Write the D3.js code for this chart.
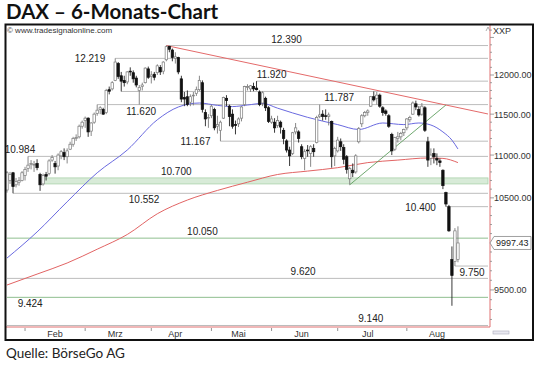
<!DOCTYPE html>
<html>
<head>
<meta charset="utf-8">
<script src="https://cdn.jsdelivr.net/npm/d3@7"></script>
<style>
body { margin: 0; background: #fff; }
svg { display: block; }
text { font-family: "Liberation Sans", Arial, sans-serif; }
</style>
</head>
<body>
<svg width="540" height="365"></svg>
<script>
// DAX daily candles, 23.01.2015 - 26.08.2015: date, open, high, low, close
var candles = [
  ["2015-01-23",10590,10810,10560,10790],["2015-01-26",10700,10800,10660,10770],
  ["2015-01-27",10790,10800,10552,10630],["2015-01-28",10650,10730,10620,10690],
  ["2015-01-29",10680,10740,10640,10700],["2015-01-30",10700,10810,10690,10790],
  ["2015-02-02",10760,10860,10700,10830],["2015-02-03",10840,10984,10800,10880],
  ["2015-02-04",10890,10940,10830,10900],["2015-02-05",10880,10930,10800,10890],
  ["2015-02-06",10900,10950,10820,10850],["2015-02-09",10770,10790,10580,10650],
  ["2015-02-10",10660,10780,10640,10760],["2015-02-11",10770,10800,10700,10750],
  ["2015-02-12",10780,10950,10760,10930],["2015-02-13",10940,11000,10920,10970],
  ["2015-02-16",10900,10930,10780,10860],["2015-02-17",10870,11020,10820,11000],
  ["2015-02-18",10990,11060,10950,11040],["2015-02-19",11030,11080,10940,10980],
  ["2015-02-20",10980,11080,10900,11050],["2015-02-23",11070,11160,11060,11130],
  ["2015-02-24",11130,11220,11100,11200],["2015-02-25",11200,11250,11170,11210],
  ["2015-02-26",11220,11370,11200,11350],["2015-02-27",11350,11420,11320,11400],
  ["2015-03-02",11420,11470,11330,11450],["2015-03-03",11450,11460,11220,11280],
  ["2015-03-04",11290,11400,11230,11390],["2015-03-05",11400,11520,11380,11500],
  ["2015-03-06",11510,11620,11480,11550],["2015-03-09",11560,11600,11500,11580],
  ["2015-03-10",11560,11580,11490,11500],["2015-03-11",11520,11820,11500,11800],
  ["2015-03-12",11810,11850,11750,11790],["2015-03-13",11820,11920,11800,11900],
  ["2015-03-16",11930,12219,11920,12170],["2015-03-17",12150,12170,11950,11980],
  ["2015-03-18",11990,12040,11787,11920],["2015-03-19",11930,11990,11850,11900],
  ["2015-03-20",11910,12050,11880,12040],["2015-03-23",12050,12100,11990,12040],
  ["2015-03-24",12030,12060,11900,11950],["2015-03-25",11960,11990,11840,11870],
  ["2015-03-26",11800,11870,11620,11840],["2015-03-27",11850,11900,11800,11870],
  ["2015-03-30",11900,12100,11890,12090],["2015-03-31",12080,12110,11950,11970],
  ["2015-04-01",11980,12050,11890,12000],["2015-04-02",12010,12040,11930,11970],
  ["2015-04-07",12030,12140,12000,12120],["2015-04-08",12100,12130,12000,12040],
  ["2015-04-09",12050,12180,12010,12170],["2015-04-10",12200,12390,12180,12375],
  ["2015-04-13",12380,12385,12300,12340],["2015-04-14",12330,12350,12180,12230],
  ["2015-04-15",12220,12300,12150,12240],["2015-04-16",12230,12240,12010,12040],
  ["2015-04-17",11950,11990,11650,11690],["2015-04-20",11710,11780,11600,11690],
  ["2015-04-21",11720,11800,11600,11620],["2015-04-22",11650,11750,11600,11720],
  ["2015-04-23",11730,11780,11610,11740],["2015-04-24",11760,11850,11730,11810],
  ["2015-04-27",11810,11990,11790,11930],["2015-04-28",11900,11930,11520,11560],
  ["2015-04-29",11520,11560,11350,11440],["2015-04-30",11450,11500,11330,11460],
  ["2015-05-04",11480,11620,11450,11600],["2015-05-05",11560,11580,11300,11330],
  ["2015-05-06",11350,11480,11260,11370],["2015-05-07",11300,11420,11167,11400],
  ["2015-05-08",11450,11720,11440,11710],["2015-05-11",11700,11740,11600,11670],
  ["2015-05-12",11600,11620,11350,11470],["2015-05-13",11500,11560,11320,11350],
  ["2015-05-14",11370,11420,11250,11360],["2015-05-15",11380,11460,11340,11440],
  ["2015-05-18",11450,11600,11410,11590],["2015-05-19",11620,11860,11600,11850],
  ["2015-05-20",11840,11880,11800,11850],["2015-05-21",11820,11870,11780,11860],
  ["2015-05-22",11850,11900,11790,11820],["2015-05-25",11830,11920,11800,11810],
  ["2015-05-26",11780,11800,11600,11620],["2015-05-27",11640,11790,11600,11770],
  ["2015-05-28",11700,11720,11540,11580],["2015-05-29",11580,11600,11390,11410],
  ["2015-06-01",11400,11480,11380,11440],["2015-06-02",11400,11450,11270,11330],
  ["2015-06-03",11360,11480,11330,11420],["2015-06-04",11400,11420,11260,11340],
  ["2015-06-05",11300,11330,11130,11200],["2015-06-08",11170,11190,11030,11060],
  ["2015-06-09",11060,11100,10870,10990],["2015-06-10",11020,11280,11000,11270],
  ["2015-06-11",11280,11390,11250,11330],["2015-06-12",11280,11300,11150,11200],
  ["2015-06-15",11100,11130,10950,10980],["2015-06-16",10960,11070,10820,11040],
  ["2015-06-17",11060,11120,10980,11050],["2015-06-18",11020,11120,10860,11100],
  ["2015-06-19",11080,11130,10980,11040],["2015-06-22",11150,11480,11140,11460],
  ["2015-06-23",11470,11620,11450,11490],["2015-06-24",11500,11550,11420,11470],
  ["2015-06-25",11480,11560,11430,11470],["2015-06-26",11470,11520,11360,11490],
  ["2015-06-29",11410,11420,10850,10980],["2015-06-30",10990,11100,10870,11080],
  ["2015-07-01",11050,11220,11030,11180],["2015-07-02",11160,11200,11050,11100],
  ["2015-07-03",11090,11130,10890,10950],["2015-07-06",10980,11000,10780,10830],
  ["2015-07-07",10720,10860,10650,10840],["2015-07-08",10820,10900,10740,10790],
  ["2015-07-09",10800,11010,10780,10990],["2015-07-10",11160,11340,11140,11320],
  ["2015-07-13",11380,11500,11340,11480],["2015-07-14",11480,11540,11460,11520],
  ["2015-07-15",11520,11560,11480,11540],["2015-07-16",11600,11730,11590,11720],
  ["2015-07-17",11720,11787,11660,11680],["2015-07-20",11700,11780,11620,11740],
  ["2015-07-21",11740,11760,11580,11600],["2015-07-22",11580,11600,11480,11520],
  ["2015-07-23",11540,11560,11480,11510],["2015-07-24",11480,11500,11330,11350],
  ["2015-07-27",11250,11270,11000,11050],["2015-07-28",11070,11220,11050,11210],
  ["2015-07-29",11200,11280,11150,11220],["2015-07-30",11220,11280,11180,11260],
  ["2015-07-31",11270,11320,11230,11310],["2015-08-03",11330,11450,11300,11440],
  ["2015-08-04",11430,11480,11400,11460],["2015-08-05",11500,11660,11490,11640],
  ["2015-08-06",11630,11670,11550,11590],["2015-08-07",11560,11600,11470,11490],
  ["2015-08-10",11500,11640,11480,11600],["2015-08-11",11580,11600,11280,11300],
  ["2015-08-12",11160,11220,10860,10940],["2015-08-13",10960,11080,10880,11000],
  ["2015-08-14",11020,11080,10900,10980],["2015-08-17",10960,11020,10880,10940],
  ["2015-08-18",10930,10960,10860,10910],["2015-08-19",10820,10830,10600,10640],
  ["2015-08-20",10560,10570,10400,10430],["2015-08-21",10400,10420,10120,10130],
  ["2015-08-24",9820,9960,9338,9650],["2015-08-25",9800,10160,9750,10130],
  ["2015-08-26",9820,10180,9790,9997.43]
];

// moving averages: [candle index, value]
var maBlue = [[0,9835],[10,10118],[20,10455],[30,10790],[40,11060],[50,11430],[57,11590],
  [64,11640],[70,11610],[75,11595],[80,11615],[85,11635],[90,11575],[100,11460],
  [110,11370],[117,11310],[125,11390],[132,11370],[137,11390],[141,11365],[145,11280],
  [148,11180],[150,11073]];
var maRed = [[0,9551],[10,9665],[20,9782],[30,9930],[40,10090],[50,10320],[60,10475],
  [70,10585],[80,10680],[90,10770],[100,10810],[110,10850],[120,10910],[130,10940],
  [140,10965],[145,10960],[150,10910]];

// trend lines: [candle index, price]
var trendDown = [[53,12390],[160,11502]];
var trendUp = [[114,10650],[146,11615]];

// horizontal levels and the candle index where each one starts
var levelPrices = [12390,12219,11920,11787,11620,11167,10984,10552,10400,10050,9750,9620,9424,9140];
var levelStart  = [53,36,83,38,30,71,7,2,146,0,149,0,0,0];
var greenLevels = [10050,9424];
var zone = [10660,10730], zoneStart = 12, zoneLabel = "10.700";

var priceTicks = [9500,10500,11000,11500,12000];
var months = ["Feb","Mrz","Apr","Mai","Jun","Jul","Aug"];
var lastPrice = 9997.43;

// where the level labels sit: candle index of label centre (or "left" of line start), side
var labelSpots = [[93,"above"],[null,"left"],[88,"above"],[110.5,"below"],[44.6,"below"],
  [null,"left"],[4.3,"above"],[45.6,"below"],[null,"left"],[65,"above"],[154.7,"below"],
  [98.5,"above"],[7.7,"below"],[121,"above"]];

var svg = d3.select("svg");
var x = d3.scaleLinear().domain([0, 160]).range([7, 488]);
var y = d3.scaleLog().domain([9120, 12670]).range([327.5, 25]);
var de = d3.formatLocale({decimal: ",", thousands: ".", grouping: [3], currency: ["", ""]});
var fmtLevel = de.format(",");

svg.append("rect").attr("width", 540).attr("height", 365).attr("fill", "#fff");

svg.append("defs").append("clipPath").attr("id", "plot")
  .append("rect").attr("x", 6).attr("y", 25).attr("width", 484).attr("height", 302);

var plot = svg.append("g").attr("clip-path", "url(#plot)");

// support / resistance zone
plot.append("rect")
  .attr("x", x(zoneStart)).attr("width", 488 - x(zoneStart))
  .attr("y", y(zone[1])).attr("height", y(zone[0]) - y(zone[1]))
  .attr("fill", "#d8ebd8").attr("stroke", "#acd2ac").attr("stroke-width", 0.8);

// horizontal levels
plot.selectAll(".level").data(levelPrices).join("line")
  .attr("class", "level")
  .attr("x1", function (d, i) { return x(levelStart[i]); })
  .attr("x2", 488)
  .attr("y1", function (d) { return y(d); })
  .attr("y2", function (d) { return y(d); })
  .attr("stroke", function (d) { return greenLevels.indexOf(d) >= 0 ? "#8fbf8f" : "#bcbcbc"; })
  .attr("stroke-width", 1);

// moving averages
var line = d3.line().x(function (d) { return x(d[0]); }).y(function (d) { return y(d[1]); })
  .curve(d3.curveMonotoneX);
plot.append("path").datum(maRed).attr("d", line)
  .attr("fill", "none").attr("stroke", "#e26464").attr("stroke-width", 1);
plot.append("path").datum(maBlue).attr("d", line)
  .attr("fill", "none").attr("stroke", "#6a6ae0").attr("stroke-width", 1);

// trend lines
var straight = d3.line().x(function (d) { return x(d[0]); }).y(function (d) { return y(d[1]); });
plot.append("path").datum(trendDown).attr("d", straight)
  .attr("fill", "none").attr("stroke", "#e46a6a").attr("stroke-width", 1);
plot.append("path").datum(trendUp).attr("d", straight)
  .attr("fill", "none").attr("stroke", "#5f9e5f").attr("stroke-width", 0.9);

// candles
var bw = 2.4;
var cg = plot.append("g");
cg.selectAll(".wick").data(candles).join("line")
  .attr("class", "wick")
  .attr("x1", function (d, i) { return x(i); })
  .attr("x2", function (d, i) { return x(i); })
  .attr("y1", function (d) { return y(d[2]); })
  .attr("y2", function (d) { return y(d[3]); })
  .attr("stroke", function (d) { return d[4] >= d[1] ? "#7a7a7a" : "#222"; })
  .attr("stroke-width", 0.9);
cg.selectAll(".body").data(candles).join("rect")
  .attr("class", "body")
  .attr("x", function (d, i) { return x(i) - bw / 2; })
  .attr("width", bw)
  .attr("y", function (d) { return y(Math.max(d[1], d[4])); })
  .attr("height", function (d) { return Math.max(0.8, Math.abs(y(d[1]) - y(d[4]))); })
  .attr("fill", function (d) { return d[4] >= d[1] ? "#fff" : "#111"; })
  .attr("stroke", function (d) { return d[4] >= d[1] ? "#7a7a7a" : "#111"; })
  .attr("stroke-width", 0.7);

// level labels
svg.append("g").selectAll("text").data(levelPrices).join("text")
  .attr("font-size", 10).attr("fill", "#222")
  .attr("text-anchor", function (d, i) { return labelSpots[i][1] == "left" ? "end" : "middle"; })
  .attr("x", function (d, i) {
    return labelSpots[i][1] == "left" ? x(levelStart[i]) - 10 : x(labelSpots[i][0]);
  })
  .attr("y", function (d, i) {
    var s = labelSpots[i][1];
    return y(d) + (s == "above" ? -3 : s == "below" ? 10 : 4);
  })
  .text(function (d) { return fmtLevel(d); });
svg.append("text").attr("font-size", 10).attr("fill", "#222").attr("text-anchor", "middle")
  .attr("x", x(56.3)).attr("y", y(zone[1]) - 3).text(zoneLabel);

// right price axis
svg.append("line").attr("x1", 490).attr("x2", 490).attr("y1", 25).attr("y2", 327)
  .attr("stroke", "#e07070").attr("stroke-width", 1);
svg.append("g").selectAll("line").data(d3.range(9200, 12700, 100)).join("line")
  .attr("x1", 490).attr("x2", function (d) { return d % 500 == 0 ? 494 : 492; })
  .attr("y1", function (d) { return y(d); }).attr("y2", function (d) { return y(d); })
  .attr("stroke", "#888").attr("stroke-width", 0.8);
svg.append("g").selectAll("text").data(priceTicks).join("text")
  .attr("x", 494).attr("y", function (d) { return y(d) + 3.5; })
  .attr("font-size", 9).attr("fill", "#333")
  .text(function (d) { return d3.format(".2f")(d); });

// last price tag
var ly = y(lastPrice);
svg.append("path")
  .attr("d", "M490," + ly + "L494," + (ly - 6.5) + "H531V" + (ly + 6.5) + "H494Z")
  .attr("fill", "#fff").attr("stroke", "#888").attr("stroke-width", 0.8);
svg.append("text").attr("x", 496).attr("y", ly + 3.3).attr("font-size", 9).attr("fill", "#222")
  .text(d3.format(".2f")(lastPrice));

// time axis
svg.append("line").attr("x1", 6).attr("x2", 490).attr("y1", 327).attr("y2", 327)
  .attr("stroke", "#e07070").attr("stroke-width", 1);
var monthStart = [], monthMid = [];
months.forEach(function (m, k) {
  var mm = k + 2;
  var first = candles.findIndex(function (d) { return +d[0].slice(5, 7) == mm; });
  var mid = candles.findIndex(function (d) { return +d[0].slice(5, 7) == mm && +d[0].slice(8) >= 15; });
  monthStart.push(first); monthMid.push(mid);
});
svg.append("g").selectAll("line").data(monthStart).join("line")
  .attr("x1", function (d) { return x(d); }).attr("x2", function (d) { return x(d); })
  .attr("y1", 328).attr("y2", 331).attr("stroke", "#777").attr("stroke-width", 0.8);
svg.append("g").selectAll("text").data(months).join("text")
  .attr("x", function (d, i) { return x(monthMid[i]); }).attr("y", 337)
  .attr("text-anchor", "middle").attr("font-size", 9).attr("fill", "#333")
  .text(function (d) { return d; });

// small header texts inside frame
svg.append("text").attr("x", 7).attr("y", 33).attr("font-size", 8).attr("fill", "#333")
  .text("\u00a9 www.tradesignalonline.com");
svg.append("text").attr("x", 493).attr("y", 33.5).attr("font-size", 9).attr("fill", "#333").text("XXP");
svg.append("path").attr("d", "M486,31 L488,27 L490,31").attr("fill", "none")
  .attr("stroke", "#999").attr("stroke-width", 0.8);
svg.append("rect").attr("x", 493).attr("y", 331).attr("width", 16).attr("height", 3)
  .attr("fill", "#e8e8f0").attr("stroke", "#aab").attr("stroke-width", 0.6);

// frame
svg.append("rect").attr("x", 5.5).attr("y", 24.5).attr("width", 527.5).attr("height", 315.5)
  .attr("fill", "none").attr("stroke", "#111").attr("stroke-width", 2);

// title and source
svg.append("text").attr("x", 6).attr("y", 19)
  .style("font-family", "Lato, 'Open Sans', sans-serif")
  .attr("font-size", 20.5).attr("font-weight", 700).attr("fill", "#111")
  .text("DAX \u2013 6-Monats-Chart");
svg.append("text").attr("x", 6).attr("y", 358)
  .style("font-family", "Lato, 'Open Sans', sans-serif")
  .attr("font-size", 13.5).attr("fill", "#222")
  .text("Quelle: B\u00f6rseGo AG");
</script>
</body>
</html>
